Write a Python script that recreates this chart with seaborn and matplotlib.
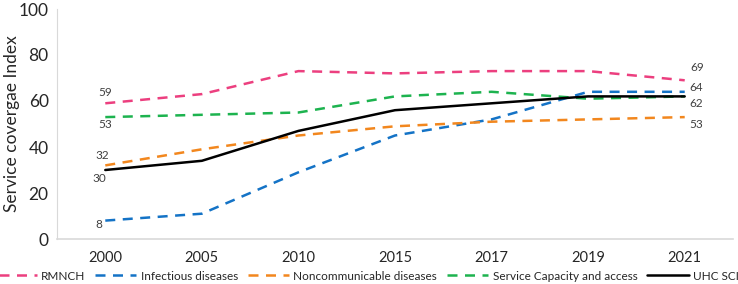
import pandas as pd
import numpy as np
import matplotlib.pyplot as plt
import seaborn as sns

# Data
years = ["2000", "2005", "2010", "2015", "2017", "2019", "2021"]
rmnch = [59, 63, 73, 72, 73, 73, 69]
infectious = [8, 11, 29, 45, 52, 64, 64]
noncommunicable = [32, 39, 45, 49, 51, 52, 53]
capacity = [53, 54, 55, 62, 64, 61, 62]
uhc_sci = [30, 34, 47, 56, 59, 62, 62]

series_names = ["RMNCH", "Infectious diseases", "Noncommunicable diseases",
                "Service Capacity and access", "UHC SCI"]
series_values = [rmnch, infectious, noncommunicable, capacity, uhc_sci]
colors = ["#EC3F7F", "#1473C6", "#F2871E", "#1DB34F", "#000000"]

rows = []
for name, vals in zip(series_names, series_values):
    for yr, v in zip(years, vals):
        rows.append({"Year": yr, "Index": v, "Series": name})
df = pd.DataFrame(rows)

sns.set_style("white")
plt.rcParams['font.family'] = ['Lato', 'DejaVu Sans']

fig = plt.figure(figsize=(7.38, 2.84), dpi=100)
ax = fig.add_axes([57 / 738, 1 - 239 / 284, 676 / 738, 230 / 284])

palette = dict(zip(series_names, colors))
dashes = {n: (4, 3) for n in series_names}
dashes["UHC SCI"] = ""

sns.lineplot(data=df, x="Year", y="Index", hue="Series", style="Series",
             palette=palette, dashes=dashes, linewidth=1.8, ax=ax,
             sort=False, legend=True)

ax.set_xlim(-0.5, 6.5)
ax.set_ylim(0, 100)
ax.set_yticks([0, 20, 40, 60, 80, 100])
ax.set_xlabel("")
ax.set_ylabel("Service covergae Index", fontsize=12.5)
ax.yaxis.set_label_coords(-37 / 676, 0.5)
ax.tick_params(axis="y", labelsize=12.5, length=0, pad=6)
ax.tick_params(axis="x", labelsize=10.5, length=0, pad=9)

for s in ["top", "right"]:
    ax.spines[s].set_visible(False)
ax.spines["left"].set_color("#D9D9D9")
ax.spines["bottom"].set_color("#D9D9D9")
ax.spines["bottom"].set_linewidth(1.2)

# data labels at the first and last year
lab_col = "#404040"
first = [(rmnch[0], (0, 7.5)), (capacity[0], (0, -5)), (noncommunicable[0], (-2, 7)),
         (uhc_sci[0], (-4, -6)), (infectious[0], (-5, -3))]
for v, off in first:
    ax.annotate(str(v), (0, v), xytext=off, textcoords="offset points",
                ha="center", va="center", fontsize=8.5, color=lab_col)
last = [(rmnch[-1], (9, 9)), (infectious[-1], (8, 3)), (uhc_sci[-1], (8, -5)),
        (noncommunicable[-1], (8, -5))]
for v, off in last:
    ax.annotate(str(v), (6, v), xytext=off, textcoords="offset points",
                ha="center", va="center", fontsize=8.5, color=lab_col)

handles, labels = ax.get_legend_handles_labels()
ax.legend(handles, labels, loc="center", bbox_to_anchor=(310 / 676, -37 / 230),
          ncol=5, frameon=False, fontsize=8.5, handlelength=3.5,
          handletextpad=0.35, columnspacing=0.85, borderaxespad=0, borderpad=0)

fig.savefig("out.png", dpi=100)
